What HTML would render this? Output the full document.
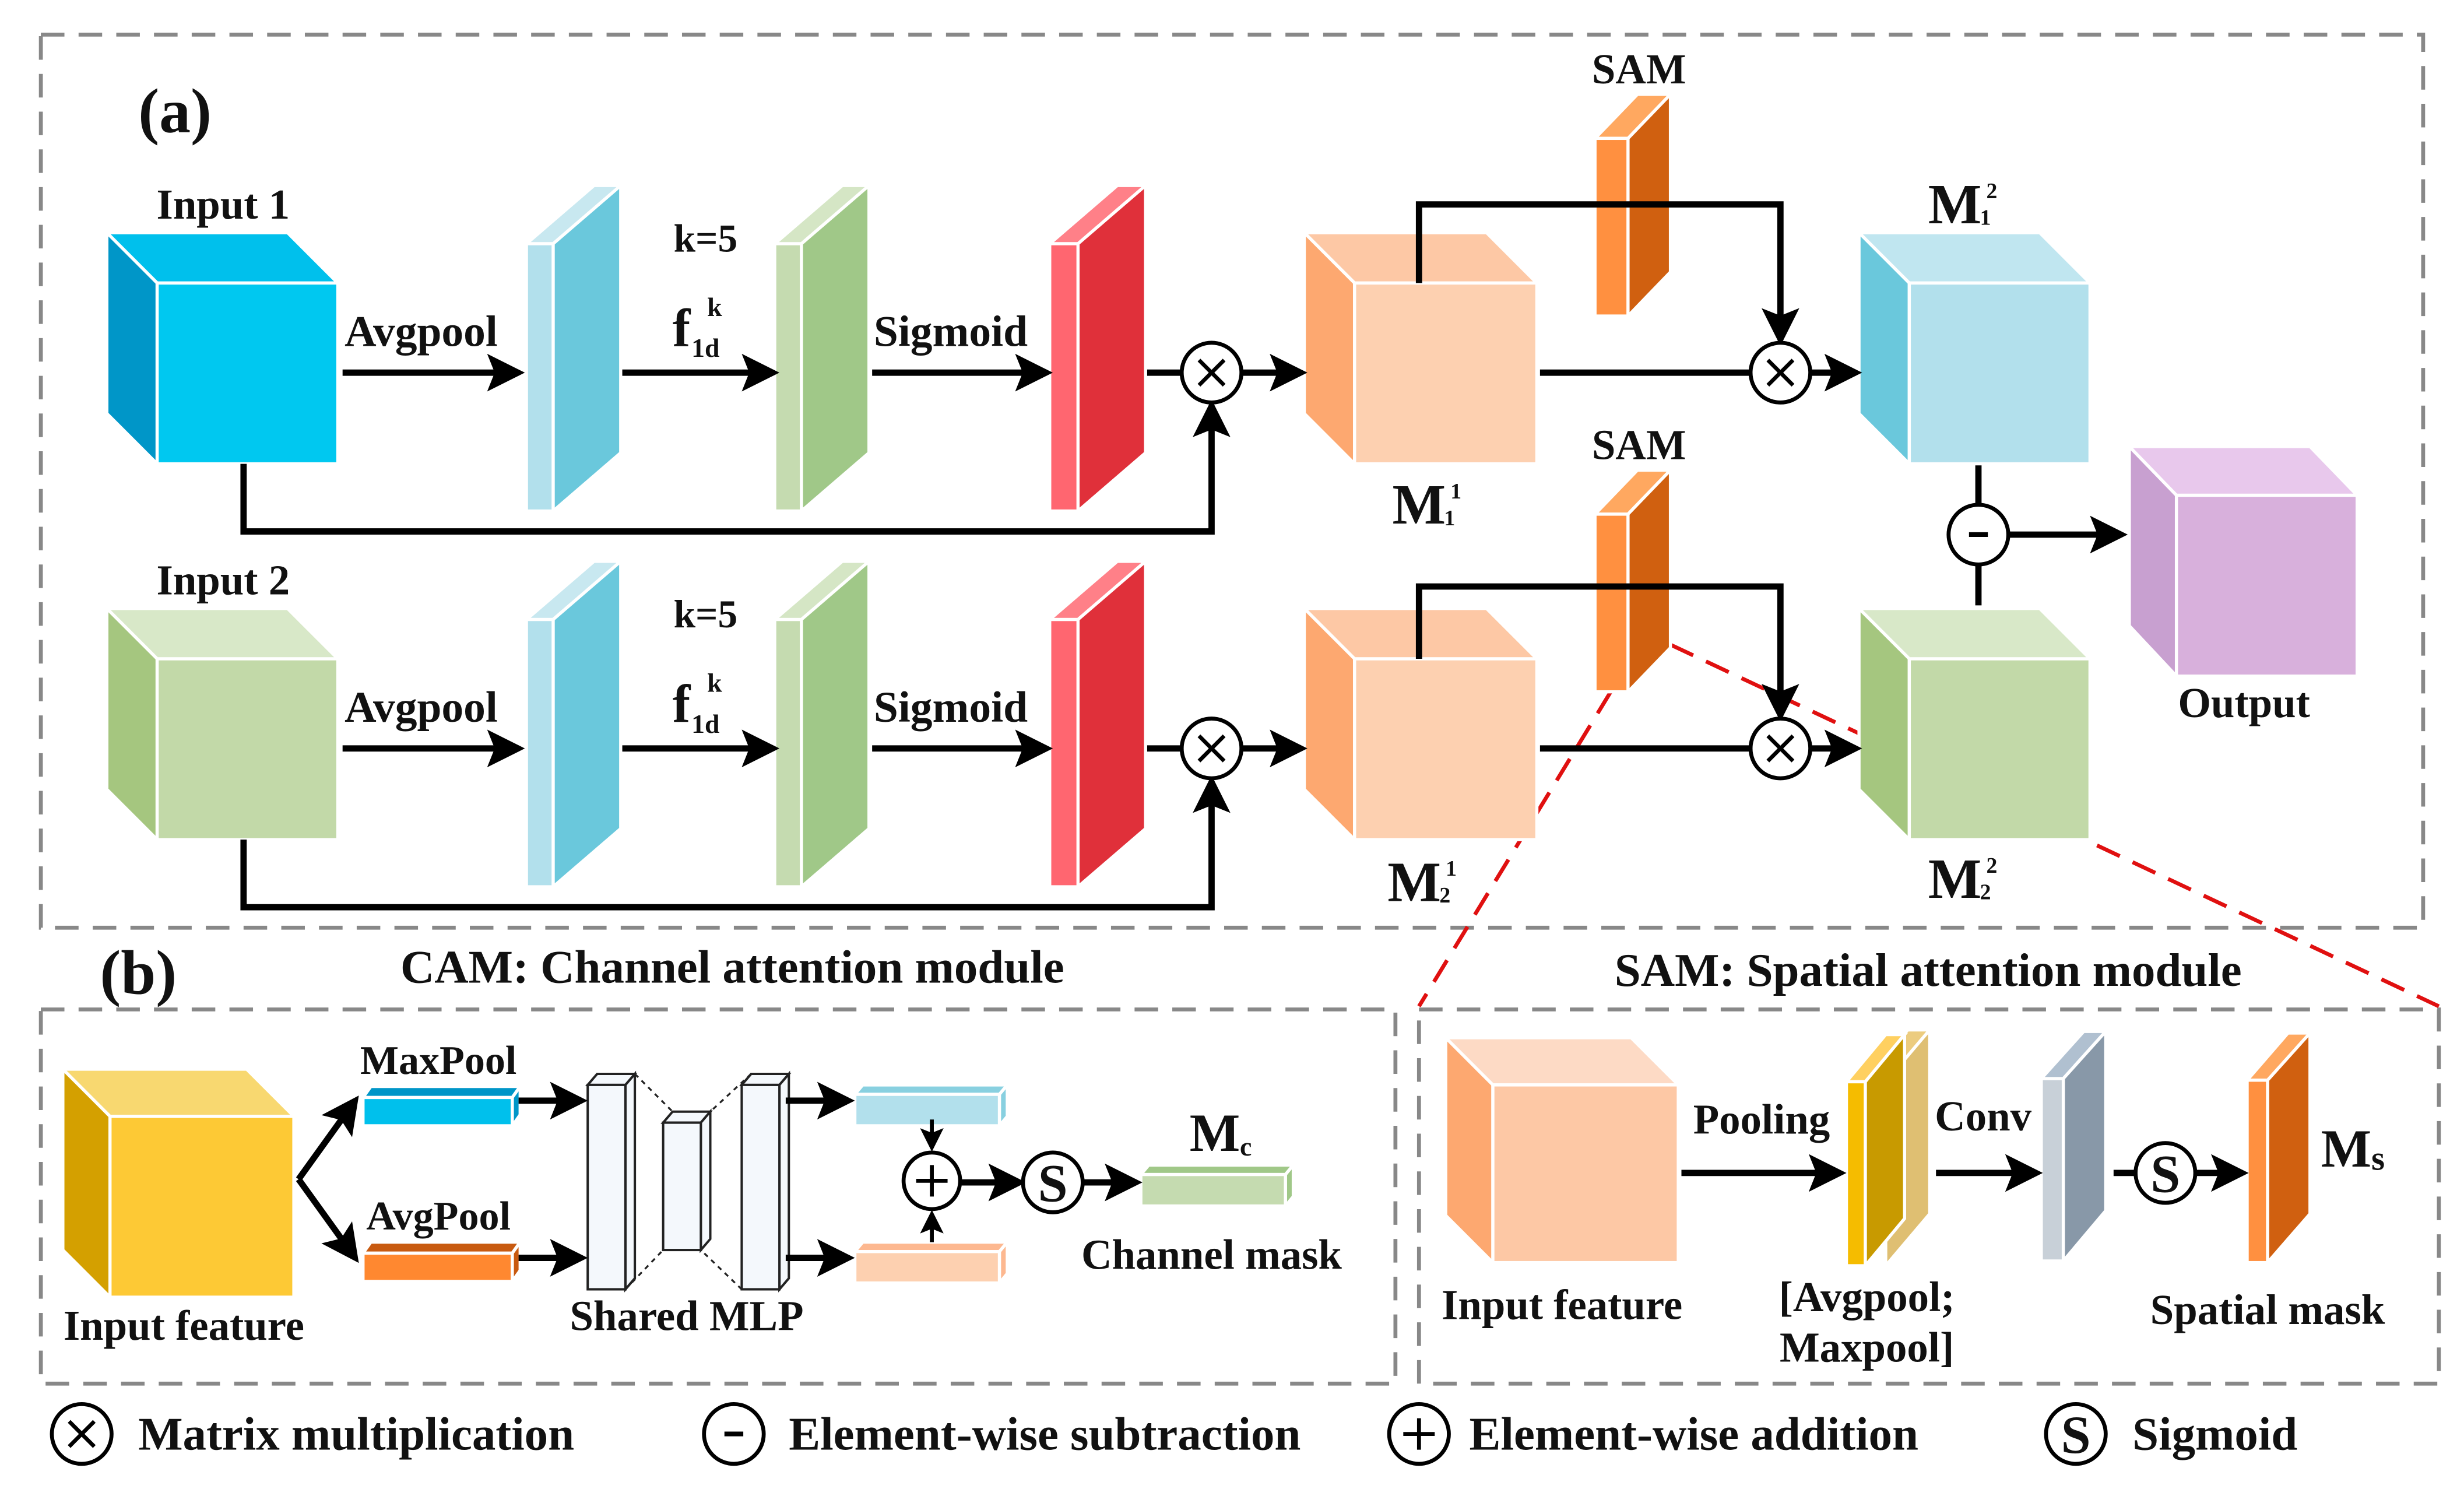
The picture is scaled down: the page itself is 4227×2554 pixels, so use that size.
<!DOCTYPE html>
<html><head><meta charset="utf-8"><style>
html,body{margin:0;padding:0;background:#fff;}
svg{display:block;}
text{font-family:"Liberation Serif",serif;font-weight:bold;fill:#111;}
</style></head><body>
<svg width="4227" height="2554" viewBox="0 0 1568 947" preserveAspectRatio="none" xmlns="http://www.w3.org/2000/svg">
<defs>
<marker id="ah" markerWidth="6" markerHeight="6" refX="5" refY="3" orient="auto" markerUnits="strokeWidth"><path d="M0,0 L6,3 L0,6 L1.2,3 Z" fill="#000"/></marker>
</defs>
<rect width="1568" height="947" fill="#fff"/>
<g fill="none" stroke="#888" stroke-width="2.5" stroke-dasharray="15 9">
<rect x="26" y="22" width="1516" height="568"/>
<rect x="26" y="642" width="862" height="238"/>
<rect x="903" y="642" width="649" height="238"/>
</g>
<g stroke="#e01010" stroke-width="2.5" stroke-dasharray="16 9" fill="none">
<line x1="1063" y1="410" x2="1552" y2="640"/>
<line x1="1025" y1="440" x2="903" y2="640"/>
</g>

<g stroke="#fff" stroke-width="2">
<polygon points="100,180 68,148 183,148 215,180" fill="#00c0ec"/>
<polygon points="100,180 68,148 68,263 100,295" fill="#0096c8"/>
<rect x="100" y="180" width="115" height="115" fill="#00c8f0"/>
<polygon points="100,419 68,387 183,387 215,419" fill="#d8e8c8"/>
<polygon points="100,419 68,387 68,502 100,534" fill="#a5c67f"/>
<rect x="100" y="419" width="115" height="115" fill="#c2d9a8"/>
<polygon points="862,180 830,148 946,148 978,180" fill="#fdc8a5"/>
<polygon points="862,180 830,148 830,263 862,295" fill="#fda870"/>
<rect x="862" y="180" width="116" height="115" fill="#fdd0b0"/>
<polygon points="862,419 830,387 946,387 978,419" fill="#fdc8a5"/>
<polygon points="862,419 830,387 830,502 862,534" fill="#fda870"/>
<rect x="862" y="419" width="116" height="115" fill="#fdd0b0"/>
<polygon points="1215,180 1183,148 1298,148 1330,180" fill="#c0e6f0"/>
<polygon points="1215,180 1183,148 1183,263 1215,295" fill="#6ac8dc"/>
<rect x="1215" y="180" width="115" height="115" fill="#b2e0ec"/>
<polygon points="1215,419 1183,387 1298,387 1330,419" fill="#d8e8c8"/>
<polygon points="1215,419 1183,387 1183,502 1215,534" fill="#a5c67f"/>
<rect x="1215" y="419" width="115" height="115" fill="#c2d9a8"/>
<polygon points="1385,315 1355,284 1470,284 1500,315" fill="#e8c8ec"/>
<polygon points="1385,315 1355,284 1355,398 1385,430" fill="#c8a0d0"/>
<rect x="1385" y="315" width="115" height="115" fill="#d8b0dc"/>

<polygon points="335,155 378,118 395,118 352,155" fill="#c8e8f0"/>
<polygon points="352,155 395,118 395,288 352,325" fill="#6ac8dc"/>
<rect x="335" y="155" width="17" height="170" fill="#b2e0ec"/>
<polygon points="493,155 536,118 553,118 510,155" fill="#d5e6c5"/>
<polygon points="510,155 553,118 553,288 510,325" fill="#a0c888"/>
<rect x="493" y="155" width="17" height="170" fill="#c5dbb0"/>
<polygon points="668,155 711,118 729,118 686,155" fill="#ff8088"/>
<polygon points="686,155 729,118 729,288 686,325" fill="#e0303a"/>
<rect x="668" y="155" width="18" height="170" fill="#ff6670"/>
<polygon points="335,394 378,357 395,357 352,394" fill="#c8e8f0"/>
<polygon points="352,394 395,357 395,527 352,564" fill="#6ac8dc"/>
<rect x="335" y="394" width="17" height="170" fill="#b2e0ec"/>
<polygon points="493,394 536,357 553,357 510,394" fill="#d5e6c5"/>
<polygon points="510,394 553,357 553,527 510,564" fill="#a0c888"/>
<rect x="493" y="394" width="17" height="170" fill="#c5dbb0"/>
<polygon points="668,394 711,357 729,357 686,394" fill="#ff8088"/>
<polygon points="686,394 729,357 729,527 686,564" fill="#e0303a"/>
<rect x="668" y="394" width="18" height="170" fill="#ff6670"/>
<polygon points="1015,88 1042,60 1063,60 1036,88" fill="#ffa860"/>
<polygon points="1036,88 1063,60 1063,173 1036,201" fill="#d06010"/>
<rect x="1015" y="88" width="21" height="113" fill="#ff9040"/>
<polygon points="1015,327 1042,299 1063,299 1036,327" fill="#ffa860"/>
<polygon points="1036,327 1063,299 1063,412 1036,440" fill="#d06010"/>
<rect x="1015" y="327" width="21" height="113" fill="#ff9040"/>
</g>

<g stroke="#000" stroke-width="4" fill="none">
<line x1="218" y1="237" x2="330" y2="237" marker-end="url(#ah)"/>
<line x1="396" y1="237" x2="492" y2="237" marker-end="url(#ah)"/>
<line x1="555" y1="237" x2="666" y2="237" marker-end="url(#ah)"/>
<line x1="730" y1="237" x2="752" y2="237"/>
<line x1="790" y1="237" x2="828" y2="237" marker-end="url(#ah)"/>
<polyline points="155,295 155,338 771,338 771,258" marker-end="url(#ah)"/>
<polyline points="903,180 903,130 1133,130 1133,216" marker-end="url(#ah)"/>
<line x1="980" y1="237" x2="1114" y2="237"/>
<line x1="1152" y1="237" x2="1181" y2="237" marker-end="url(#ah)"/>
<line x1="218" y1="476" x2="330" y2="476" marker-end="url(#ah)"/>
<line x1="396" y1="476" x2="492" y2="476" marker-end="url(#ah)"/>
<line x1="555" y1="476" x2="666" y2="476" marker-end="url(#ah)"/>
<line x1="730" y1="476" x2="752" y2="476"/>
<line x1="790" y1="476" x2="828" y2="476" marker-end="url(#ah)"/>
<polyline points="155,534 155,577 771,577 771,497" marker-end="url(#ah)"/>
<polyline points="903,419 903,373 1133,373 1133,455" marker-end="url(#ah)"/>
<line x1="980" y1="476" x2="1114" y2="476"/>
<line x1="1152" y1="476" x2="1181" y2="476" marker-end="url(#ah)"/>
<line x1="1259" y1="296" x2="1259" y2="321"/>
<line x1="1259" y1="359" x2="1259" y2="385"/>
<line x1="1278" y1="340" x2="1350" y2="340" marker-end="url(#ah)"/>
</g>
<g stroke="#000" stroke-width="2.5" fill="#fff">
<circle cx="771" cy="237" r="19"/><circle cx="1133" cy="237" r="19"/>
<circle cx="771" cy="476" r="19"/><circle cx="1133" cy="476" r="19"/>
<circle cx="1259" cy="340" r="19"/>
</g>
<g stroke="#000" stroke-width="2.5">
<path d="M763,229 L779,245 M779,229 L763,245"/><path d="M1125,229 L1141,245 M1141,229 L1125,245"/>
<path d="M763,468 L779,484 M779,468 L763,484"/><path d="M1125,468 L1141,484 M1141,468 L1125,484"/>
<path d="M1253,340 L1265,340" stroke-width="3"/>
</g>

<text x="88" y="84" font-size="40">(a)</text>
<text x="142" y="139" font-size="27" text-anchor="middle">Input 1</text>
<text x="142" y="378" font-size="27" text-anchor="middle">Input 2</text>
<text x="268" y="220" font-size="28" text-anchor="middle">Avgpool</text>
<text x="268" y="459" font-size="28" text-anchor="middle">Avgpool</text>
<text x="605" y="220" font-size="28" text-anchor="middle">Sigmoid</text>
<text x="605" y="459" font-size="28" text-anchor="middle">Sigmoid</text>
<text x="449" y="160" font-size="25" text-anchor="middle">k=5</text>
<text x="449" y="399" font-size="25" text-anchor="middle">k=5</text>
<text x="428" y="220" font-size="34">f</text><text x="440" y="227" font-size="17">1d</text><text x="450" y="201" font-size="17">k</text>
<text x="428" y="459" font-size="34">f</text><text x="440" y="466" font-size="17">1d</text><text x="450" y="440" font-size="17">k</text>
<text x="1043" y="53" font-size="27" text-anchor="middle">SAM</text>
<text x="1043" y="292" font-size="27" text-anchor="middle">SAM</text>
<text x="886" y="333" font-size="36">M</text><text x="919" y="334" font-size="14">1</text><text x="923" y="317" font-size="14">1</text>
<text x="883" y="573" font-size="36">M</text><text x="916" y="574" font-size="14">2</text><text x="920" y="557" font-size="14">1</text>
<text x="1227" y="142" font-size="36">M</text><text x="1260" y="143" font-size="14">1</text><text x="1264" y="126" font-size="14">2</text>
<text x="1227" y="571" font-size="36">M</text><text x="1260" y="572" font-size="14">2</text><text x="1264" y="555" font-size="14">2</text>
<text x="1428" y="456" font-size="27" text-anchor="middle">Output</text>

<text x="88" y="632" font-size="40" text-anchor="middle">(b)</text>
<text x="466" y="625" font-size="30" text-anchor="middle">CAM: Channel attention module</text>
<text x="1227" y="627" font-size="30" text-anchor="middle">SAM: Spatial attention module</text>

<g stroke="#fff" stroke-width="2">
<polygon points="70,710 40,680 157,680 187,710" fill="#f8d870"/>
<polygon points="70,710 40,680 40,795 70,825" fill="#d4a000"/>
<rect x="70" y="710" width="117" height="115" fill="#fdc935"/>
<polygon points="231,698 236,691 331,691 326,698" fill="#0096c8"/>
<polygon points="326,698 331,691 331,709 326,716" fill="#0096c8"/>
<rect x="231" y="698" width="95" height="18" fill="#00c0ec"/>
<polygon points="231,797 236,790 331,790 326,797" fill="#c85a10"/>
<polygon points="326,797 331,790 331,808 326,815" fill="#c85a10"/>
<rect x="231" y="797" width="95" height="18" fill="#ff8830"/>
<polygon points="544,696 549,690 641,690 636,696" fill="#88d0e0"/>
<polygon points="636,696 641,690 641,710 636,716" fill="#88d0e0"/>
<rect x="544" y="696" width="92" height="20" fill="#b2e0ec"/>
<polygon points="544,796 549,790 641,790 636,796" fill="#fdb890"/>
<polygon points="636,796 641,790 641,810 636,816" fill="#fdb890"/>
<rect x="544" y="796" width="92" height="20" fill="#fdd0b0"/>
<polygon points="726,747 731,741 823,741 818,747" fill="#a0c888"/>
<polygon points="818,747 823,741 823,761 818,767" fill="#a0c888"/>
<rect x="726" y="747" width="92" height="20" fill="#c5dbb0"/>
<polygon points="950,690 920,660 1038,660 1068,690" fill="#fddac5"/>
<polygon points="950,690 920,660 920,773 950,803" fill="#fda870"/>
<rect x="950" y="690" width="118" height="113" fill="#fdc8a5"/>
<polygon points="1187,688 1214,655 1228,655 1200,688" fill="#e8c060" opacity="0.8"/>
<polygon points="1200,688 1228,655 1228,772 1200,805" fill="#d8b050" opacity="0.8"/>
<polygon points="1175,688 1200,658 1212,658 1187,688" fill="#ffd060"/>
<polygon points="1187,688 1212,658 1212,775 1187,805" fill="#c89a00"/>
<rect x="1175" y="688" width="12" height="117" fill="#f5bc00"/>
<polygon points="1299,686 1326,656 1340,656 1313,686" fill="#b0c0d0"/>
<polygon points="1313,686 1340,656 1340,770 1313,802" fill="#8898a8"/>
<rect x="1299" y="686" width="14" height="116" fill="#c8d0d8"/>
<polygon points="1430,687 1456,657 1470,657 1443,687" fill="#ffa860"/>
<polygon points="1443,687 1470,657 1470,772 1443,803" fill="#d06010"/>
<rect x="1430" y="687" width="13" height="116" fill="#ff9040"/>
</g>
<g stroke="#222" stroke-width="1.5" fill="#f4f8fc">
<polygon points="374,690 380,683 404,683 398,690"/><polygon points="398,690 404,683 404,813 398,820"/><rect x="374" y="690" width="24" height="130"/>
<polygon points="422,714 428,707 452,707 446,714"/><polygon points="446,714 452,707 452,788 446,795"/><rect x="422" y="714" width="24" height="81"/>
<polygon points="472,690 478,683 502,683 496,690"/><polygon points="496,690 502,683 502,813 496,820"/><rect x="472" y="690" width="24" height="130"/>
</g>
<g stroke="#222" stroke-width="1.2" stroke-dasharray="3 3" fill="none">
<line x1="404" y1="683" x2="428" y2="707"/><line x1="478" y1="683" x2="452" y2="707"/>
<line x1="398" y1="820" x2="422" y2="795"/><line x1="472" y1="820" x2="446" y2="795"/>
</g>
<g stroke="#000" stroke-width="4" fill="none">
<polyline points="190,750 226,700" marker-end="url(#ah)"/>
<polyline points="190,750 226,800" marker-end="url(#ah)"/>
<line x1="330" y1="700" x2="370" y2="700" marker-end="url(#ah)"/>
<line x1="330" y1="800" x2="370" y2="800" marker-end="url(#ah)"/>
<line x1="500" y1="700" x2="540" y2="700" marker-end="url(#ah)"/>
<line x1="500" y1="800" x2="540" y2="800" marker-end="url(#ah)"/>
<line x1="612" y1="752" x2="649" y2="752" marker-end="url(#ah)"/>
<line x1="690" y1="752" x2="723" y2="752" marker-end="url(#ah)"/>
<line x1="1070" y1="746" x2="1171" y2="746" marker-end="url(#ah)"/>
<line x1="1232" y1="746" x2="1296" y2="746" marker-end="url(#ah)"/>
<line x1="1345" y1="746" x2="1359" y2="746"/>
<line x1="1398" y1="746" x2="1427" y2="746" marker-end="url(#ah)"/>
</g>
<g stroke="#000" stroke-width="2.5" fill="none">
<line x1="593" y1="712" x2="593" y2="730" marker-end="url(#ah)"/>
<line x1="593" y1="790" x2="593" y2="772" marker-end="url(#ah)"/>
</g>
<g stroke="#000" stroke-width="2.5" fill="#fff">
<circle cx="593" cy="751" r="18"/><circle cx="670" cy="752" r="19"/><circle cx="1378" cy="746" r="19"/>
</g>
<path d="M583,751 L603,751 M593,741 L593,761" stroke="#000" stroke-width="2.5"/>
<text x="670" y="764" font-size="34" text-anchor="middle">S</text>
<text x="1378" y="758" font-size="34" text-anchor="middle">S</text>

<text x="279" y="683" font-size="26" text-anchor="middle">MaxPool</text>
<text x="279" y="782" font-size="26" text-anchor="middle">AvgPool</text>
<text x="117" y="852" font-size="27" text-anchor="middle">Input feature</text>
<text x="437" y="846" font-size="27" text-anchor="middle">Shared MLP</text>
<text x="757" y="732" font-size="34">M</text><text x="789" y="735" font-size="17">c</text>
<text x="771" y="807" font-size="27" text-anchor="middle">Channel mask</text>
<text x="994" y="839" font-size="27" text-anchor="middle">Input feature</text>
<text x="1121" y="721" font-size="27" text-anchor="middle">Pooling</text>
<text x="1188" y="834" font-size="27" text-anchor="middle">[Avgpool;</text>
<text x="1188" y="866" font-size="27" text-anchor="middle">Maxpool]</text>
<text x="1262" y="719" font-size="27" text-anchor="middle">Conv</text>
<text x="1477" y="742" font-size="34">M</text><text x="1509" y="744" font-size="22">s</text>
<text x="1443" y="842" font-size="27" text-anchor="middle">Spatial mask</text>

<g stroke="#000" stroke-width="2.5" fill="#fff">
<circle cx="52" cy="912" r="19"/><circle cx="467" cy="912" r="19"/><circle cx="903" cy="912" r="19"/><circle cx="1321" cy="912" r="19"/>
</g>
<g stroke="#000" stroke-width="2.5">
<path d="M44,904 L60,920 M60,904 L44,920"/>
<path d="M461,912 L473,912" stroke-width="3"/>
<path d="M893,912 L913,912 M903,902 L903,922"/>
</g>
<text x="1321" y="924" font-size="34" text-anchor="middle">S</text>
<text x="88" y="922" font-size="30">Matrix multiplication</text>
<text x="502" y="922" font-size="30">Element-wise subtraction</text>
<text x="935" y="922" font-size="30">Element-wise addition</text>
<text x="1357" y="922" font-size="30">Sigmoid</text>
</svg>
</body></html>
